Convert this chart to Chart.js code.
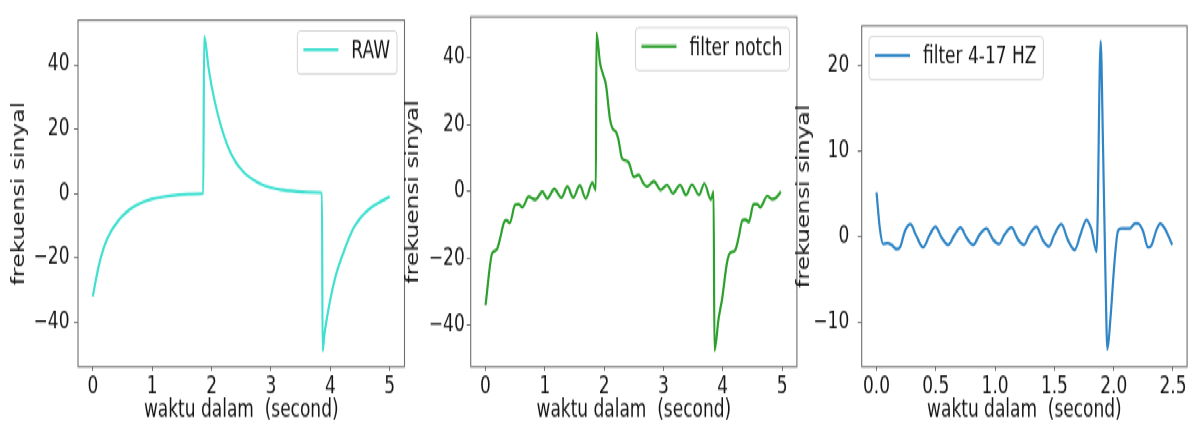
<!DOCTYPE html>
<html>
<head>
<meta charset="utf-8">
<script src="https://cdn.jsdelivr.net/npm/chart.js@4.4.0/dist/chart.umd.min.js"></script>
<style>
  html, body { margin: 0; padding: 0; background: #ffffff; overflow: hidden; }
  #stage { position: absolute; left: 0; top: 0; width: 1190px; height: 313px;
           transform: scale(1, 1.38019); transform-origin: 0 0; }
  #stage canvas { position: absolute; top: 0; }
</style>
</head>
<body>
<div id="stage">
  <canvas id="c1" width="410" height="313" style="left:0px;width:410px;height:313px"></canvas>
  <canvas id="c2" width="400" height="313" style="left:400px;width:400px;height:313px"></canvas>
  <canvas id="c3" width="400" height="313" style="left:790px;width:400px;height:313px"></canvas>
</div>
<script>
// ---------------- data ----------------
const rawTime  = [0, 0.05, 0.1, 0.15, 0.2, 0.3, 0.4, 0.5, 0.6, 0.7, 0.8, 1.0, 1.2, 1.4, 1.6, 1.86,
                  1.875, 1.95, 2.0, 2.1, 2.2, 2.3, 2.4, 2.5, 2.6, 2.8, 3.0, 3.2, 3.4, 3.6, 3.86,
                  3.87, 3.9, 4.0, 4.1, 4.2, 4.3, 4.4, 4.5, 4.6, 4.7, 4.8, 4.9, 5.0];
const rawValue = [-32, -27, -22.5, -19, -16, -12, -9.2, -7, -5.3, -4, -3, -1.7, -1, -0.5, -0.2, 0,
                  49, 39, 33.5, 25, 18.5, 13.5, 10, 7.5, 5.6, 3.2, 1.8, 1.1, 0.7, 0.4, 0.2,
                  -49, -44, -33, -25, -19.5, -14.5, -10.5, -7.8, -5.8, -4.2, -3.0, -2.0, -1.0];

const notchTime  = [0, 0.11, 0.15, 0.2, 0.25, 0.31, 0.35, 0.41, 0.5, 0.56, 0.62, 0.73, 0.8, 0.84,
                    0.96, 1.04, 1.16, 1.28, 1.38, 1.48, 1.59, 1.69, 1.8, 1.86,
                    1.87, 1.93, 1.99, 2.03, 2.1, 2.14, 2.2, 2.24, 2.3, 2.36, 2.42, 2.5, 2.58, 2.66,
                    2.72, 2.84, 2.95, 3.06, 3.16, 3.28, 3.38, 3.48, 3.6, 3.69, 3.8, 3.845,
                    3.86, 3.93, 3.99, 4.07, 4.12, 4.21, 4.27, 4.33, 4.38, 4.44, 4.52, 4.58, 4.63,
                    4.75, 4.83, 4.9, 4.98];
const notchValue = [-34, -18.5, -17.8, -17, -13.7, -9.3, -8.6, -9.3, -3.9, -3.7, -4.7, -1.5, -2.2, -2.4,
                    0, -2.1, 0.8, -1.8, 1.5, -1.8, 1.8, -2.1, 2.7, 0.4,
                    47.5, 38.5, 34.6, 32, 21.5, 19, 17.8, 15.7, 10, 9.3, 8.5, 4.4, 5, 2.5,
                    1.5, 3.1, 0.5, 2.0, -0.5, 2.0, -1.0, 2.1, -1.0, 2.4, -2.4, 0,
                    -47.6, -38, -32, -21.4, -18.4, -17.5, -13.5, -8.6, -8.4, -9.1, -3.7, -3.7, -4.7,
                    -1.3, -2.3, -1.8, 0];

const bandTime  = [0, 0.028, 0.056, 0.093, 0.126, 0.17, 0.197, 0.24, 0.287, 0.33,
                   0.393, 0.45, 0.497, 0.55, 0.604, 0.66, 0.708, 0.76, 0.815, 0.87,
                   0.927, 0.983, 1.034, 1.08, 1.138, 1.194, 1.244, 1.29, 1.348, 1.404,
                   1.455, 1.5, 1.559, 1.615, 1.67, 1.72, 1.77, 1.81, 1.856,
                   1.89, 1.91, 1.93, 1.947, 1.972, 2.008, 2.036, 2.065, 2.107, 2.135,
                   2.18, 2.205, 2.247, 2.29, 2.317, 2.36, 2.393, 2.43, 2.494];
const bandValue = [5.2, 1.0, -0.8, -0.7, -0.9, -1.4, -1.2, 0.7, 1.5, 0.3,
                   -1.2, 0.3, 1.2, -0.1, -0.9, 0.3, 1.1, -0.1, -0.9, 0.3,
                   1.0, -0.3, -0.8, 0.3, 1.1, -0.3, -0.9, 0.3, 1.2, -0.4,
                   -1.1, 0.3, 1.5, -0.4, -1.5, 0.3, 2.0, 1.0, -1.7,
                   22.8, 10.6, -4.1, -13.1, -9.6, -2.7, 0.7, 1.0, 1.0, 1.0,
                   1.6, 1.6, 0.7, -1.2, -1.0, 0.8, 1.6, 1.0, -0.9];

const timeTicks5   = [0, 1, 2, 3, 4, 5];
const timeTicks25  = [0, 0.5, 1.0, 1.5, 2.0, 2.5];
const valueTicks40 = [-40, -20, 0, 20, 40];
const valueTicks20 = [-10, 0, 10, 20];

const seriesLabels = ['RAW', 'filter notch', 'filter 4-17 HZ'];
const xTitle = 'waktu dalam  (second)';
const yTitle = 'frekuensi sinyal';

// ---------------- styling ----------------
const FONT = '"DejaVu Sans", "Liberation Sans", sans-serif';
const FS = 17;
const TEXT = '#151515';
const FRAME = '#6e6e6e';

const mplBox = {
  id: 'mplBox',
  afterDatasetsDraw(chart, args, opts) {
    const { ctx, chartArea: a } = chart;
    ctx.save();
    ctx.strokeStyle = FRAME;
    ctx.lineWidth = 1.1;
    ctx.strokeRect(a.left, a.top, a.right - a.left, a.bottom - a.top);

    const ds = chart.data.datasets[0];
    ctx.font = FS + 'px ' + FONT;
    const tw = ctx.measureText(ds.label).width;
    const w = 54 + tw + 7;
    const h = 31.2;
    const x0 = opts.side === 'left' ? a.left + 7.3 : a.right - 7.5 - w;
    const y0 = a.top + 7.8;
    const r = 3;
    ctx.beginPath();
    ctx.moveTo(x0 + r, y0);
    ctx.arcTo(x0 + w, y0, x0 + w, y0 + h, r);
    ctx.arcTo(x0 + w, y0 + h, x0, y0 + h, r);
    ctx.arcTo(x0, y0 + h, x0, y0, r);
    ctx.arcTo(x0, y0, x0 + w, y0, r);
    ctx.closePath();
    ctx.fillStyle = 'rgba(255,255,255,0.8)';
    ctx.fill();
    ctx.strokeStyle = '#d4d4d4';
    ctx.lineWidth = 1;
    ctx.stroke();

    ctx.beginPath();
    ctx.moveTo(x0 + 6, y0 + 13.7);
    ctx.lineTo(x0 + 41, y0 + 13.7);
    ctx.strokeStyle = ds.borderColor;
    ctx.lineWidth = 2.2;
    ctx.stroke();

    ctx.fillStyle = TEXT;
    ctx.textAlign = 'left';
    ctx.textBaseline = 'alphabetic';
    ctx.fillText(ds.label, x0 + 54, y0 + 19.8);
    ctx.restore();
  }
};

const minusFmt = v => (v < 0 ? '\u2212' + Math.abs(v) : String(v));

function panel(id, label, color, xs, ys, cfg) {
  const points = xs.map((x, i) => ({ x: x, y: ys[i] }));
  return new Chart(document.getElementById(id), {
    type: 'line',
    data: {
      datasets: [{
        label: label, data: points, borderColor: color, backgroundColor: color,
        borderWidth: 2.2, pointRadius: 0, fill: false, cubicInterpolationMode: 'monotone'
      }]
    },
    options: {
      responsive: false, animation: false, devicePixelRatio: 1,
      layout: { padding: { top: 5.3, right: cfg.padRight, bottom: 0, left: 0 } },
      plugins: { legend: { display: false }, tooltip: { enabled: false }, mplBox: { side: cfg.side } },
      scales: {
        x: {
          type: 'linear', min: cfg.xMin, max: cfg.xMax,
          afterBuildTicks: s => { s.ticks = cfg.xTicks.map(v => ({ value: v })); },
          afterFit: s => { s.height = 47.3; },
          ticks: { autoSkip: false, maxRotation: 0, padding: 1.5, color: TEXT,
                   font: { family: FONT, size: FS }, callback: cfg.xFmt },
          grid: { display: true, drawOnChartArea: false, drawTicks: true, tickLength: 3, color: FRAME },
          border: { display: false },
          title: { display: true, text: xTitle, color: TEXT, font: { family: FONT, size: FS },
                   padding: { top: 0, bottom: 5.4 } }
        },
        y: {
          type: 'linear', min: cfg.yMin, max: cfg.yMax,
          afterBuildTicks: s => { s.ticks = cfg.yTicks.map(v => ({ value: v })); },
          afterFit: s => { s.width = cfg.yWidth; },
          ticks: { autoSkip: false, padding: cfg.yPad, color: TEXT,
                   font: { family: FONT, size: FS }, callback: minusFmt },
          grid: { display: true, drawOnChartArea: false, drawTicks: true, tickLength: 4, color: FRAME },
          border: { display: false },
          title: { display: true, text: yTitle, color: TEXT, font: { family: FONT, size: FS },
                   padding: { top: cfg.yTitlePad, bottom: 0 } }
        }
      }
    },
    plugins: [mplBox]
  });
}

panel('c1', seriesLabels[0], '#40e0d0', rawTime, rawValue, {
  xMin: -0.25, xMax: 5.25, yMin: -53.9, yMax: 53.9, xTicks: timeTicks5, yTicks: valueTicks40,
  xFmt: v => String(v), yWidth: 78, yPad: 4.5, yTitlePad: 9.2, padRight: 5.5, side: 'right'
});
panel('c2', seriesLabels[1], '#2ca02c', notchTime, notchValue, {
  xMin: -0.25, xMax: 5.25, yMin: -52.4, yMax: 52.3, xTicks: timeTicks5, yTicks: valueTicks40,
  xFmt: v => String(v), yWidth: 70.7, yPad: 2, yTitlePad: 3.4, padRight: 3.1, side: 'right'
});
panel('c3', seriesLabels[2], '#2f85c6', bandTime, bandValue, {
  xMin: -0.125, xMax: 2.619, yMin: -15.1, yMax: 24.6, xTicks: timeTicks25, yTicks: valueTicks20,
  xFmt: v => v.toFixed(1), yWidth: 71.7, yPad: 8.5, yTitlePad: 4.8, padRight: 2.9, side: 'left'
});
</script>
</body>
</html>
